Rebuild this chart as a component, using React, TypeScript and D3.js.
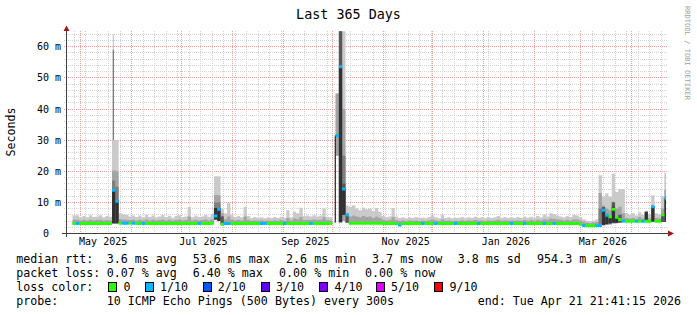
import React from 'react';
import * as d3 from 'd3';

// ---------- data ----------
const START = Date.UTC(2025, 3, 21, 21, 41, 15);
const END = Date.UTC(2026, 3, 21, 21, 41, 15);
const DAY = 86400000;
const BIN_DAYS = 2;

// median rtt per 2-day bin (ms)
const pMed: (number | null)[] = [
  null, null, 3.2, 3.2, 3.2, 3.2, 3.2, 3.2, 3.2, 3.2,
  3.2, 3.2, 3.2, 3.2, 13.9, 10.4, 3.3, 3.3, 3.3, 3.3,
  3.3, 3.2, 3.2, 3.2, 3.2, 3.2, 3.2, 3.2, 3.2, 3.2,
  3.2, 3.2, 3.2, 3.2, 3.2, 3.2, 3.2, 3.2, 3.2, 3.2,
  3.2, 3.2, 3.2, 3.2, 3.3, 5.6, 7.8, 3.0, 3.2, 3.2,
  3.2, 3.2, 3.2, 3.2, 3.2, 3.2, 3.2, 3.2, 3.2, 3.2,
  3.2, 3.2, 3.2, 3.2, 3.2, 3.2, 3.2, 3.2, 3.2, 3.2,
  3.2, 3.2, 3.2, 3.2, 3.2, 3.2, 3.2, 3.2, 3.2, 3.2,
  3.2, null, 31.5, 53.6, 14.3, 6.0, 3.3, 3.3, 3.3, 3.3,
  3.3, 3.3, 3.3, 3.3, 3.3, 3.3, 3.2, 3.2, 3.2, 3.2,
  3.2, 2.7, 3.2, 3.2, 3.2, 3.2, 3.2, 3.2, 3.2, 3.2,
  3.2, 3.2, 3.2, 3.2, 3.2, 3.2, 3.2, 3.2, 3.2, 3.2,
  3.2, 3.2, 3.2, 3.2, 3.2, 3.2, 3.2, 3.2, 3.2, 3.2,
  3.2, 3.2, 3.2, 3.2, 3.2, 3.2, 3.2, 3.2, 3.2, 3.2,
  3.2, 3.2, 3.2, 3.2, 3.2, 3.2, 3.2, 3.2, 3.2, 3.2,
  3.2, 3.2, 3.2, 3.2, 3.2, 3.2, 3.0, 2.6, 2.5, 2.5,
  2.5, 2.6, 2.6, 7.5, 5.9, 5.4, 7.8, 5.2, 4.5, 4.0,
  3.9, 3.9, 3.9, 3.9, 3.9, 3.9, 3.9, 3.9, 8.6, 3.9,
  3.9, 6.0, 11.3,
];

// lowest ping per bin (ms)
const pLow: (number | null)[] = [
  null, null, 3.0, 3.0, 3.0, 3.0, 3.0, 3.0, 3.0, 3.0,
  3.0, 3.0, 3.0, 3.0, 3.1, 3.1, 3.1, 3.1, 3.1, 3.1,
  3.1, 3.0, 3.0, 3.0, 3.0, 3.0, 3.0, 3.0, 3.0, 3.0,
  3.0, 3.0, 3.0, 3.0, 3.0, 3.0, 3.0, 3.0, 3.0, 3.0,
  3.0, 3.0, 3.0, 3.0, 3.1, 4.4, 4.0, 2.8, 3.0, 3.0,
  3.0, 3.0, 3.0, 3.0, 3.0, 3.0, 3.0, 3.0, 3.0, 3.0,
  3.0, 3.0, 3.0, 3.0, 3.0, 3.0, 3.0, 3.0, 3.0, 3.0,
  3.0, 3.0, 3.0, 3.0, 3.0, 3.0, 3.0, 3.0, 3.0, 3.0,
  3.0, null, 25, 3.5, 4.0, 3.4, 3.1, 3.1, 3.1, 3.1,
  3.1, 3.1, 3.1, 3.1, 3.1, 3.1, 3.0, 3.0, 3.0, 3.0,
  3.0, 2.5, 3.0, 3.0, 3.0, 3.0, 3.0, 3.0, 3.0, 3.0,
  3.0, 3.0, 3.0, 3.0, 3.0, 3.0, 3.0, 3.0, 3.0, 3.0,
  3.0, 3.0, 3.0, 3.0, 3.0, 3.0, 3.0, 3.0, 3.0, 3.0,
  3.0, 3.0, 3.0, 3.0, 3.0, 3.0, 3.0, 3.0, 3.0, 3.0,
  3.0, 3.0, 3.0, 3.0, 3.0, 3.0, 3.0, 3.0, 3.0, 3.0,
  3.0, 3.0, 3.0, 3.0, 3.0, 3.0, 2.8, 2.4, 2.3, 2.3,
  2.3, 2.4, 2.4, 2.6, 2.7, 2.9, 3.2, 3.3, 3.4, 3.6,
  3.7, 3.7, 3.7, 3.7, 3.7, 3.7, 3.7, 3.7, 3.7, 3.7,
  3.7, 3.7, 3.7,
];

// upper edge of the inner (darker) smoke band (ms)
const pMid: (number | null)[] = [
  null, null, 4.4, 4.4, 4.2, 4.3, 4.2, 4.4, 4.2, 4.3,
  4.4, 4.2, 4.3, 4.2, 20.4, 20.0, 4.6, 4.5, 4.4, 4.3,
  4.4, 4.2, 4.4, 4.2, 4.5, 4.2, 4.4, 4.2, 4.3, 4.5,
  4.2, 4.4, 4.1, 4.3, 4.5, 4.2, 4.3, 5.5, 4.2, 4.4,
  4.2, 4.3, 4.5, 4.2, 4.6, 12.3, 12.3, 6.5, 4.6, 5.5,
  4.5, 4.2, 4.3, 4.2, 5.5, 4.3, 4.1, 4.2, 4.1, 4.2,
  4.1, 4.2, 4.1, 4.2, 4.1, 4.3, 4.1, 5.0, 4.2, 4.8,
  4.6, 5.3, 4.3, 4.4, 4.3, 4.5, 4.3, 4.4, 5.2, 4.3,
  4.2, null, 45, 70, 40, 6.5, 5.5, 5.8, 5.5, 5.2,
  5.6, 5.3, 5.5, 5.0, 5.4, 5.0, 4.4, 4.2, 4.3, 5.2,
  4.3, 4.0, 4.2, 4.0, 4.2, 4.1, 4.2, 4.0, 4.1, 4.0,
  4.2, 4.5, 4.2, 4.0, 4.5, 4.1, 4.2, 4.0, 4.1, 4.0,
  4.2, 4.0, 4.2, 4.1, 4.3, 4.1, 4.2, 4.0, 4.2, 4.1,
  4.2, 4.4, 4.1, 4.2, 4.1, 4.2, 4.1, 4.2, 4.1, 4.3,
  4.1, 4.3, 4.1, 4.4, 4.2, 4.6, 4.4, 4.8, 4.7, 4.5,
  4.4, 4.2, 4.4, 4.2, 4.6, 4.5, 4.2, 3.8, 3.5, 3.4,
  3.5, 3.7, 13.0, 9.0, 8.0, 7.5, 10.2, 8.0, 8.6, 6.5,
  5.0, 4.8, 5.0, 4.7, 5.3, 4.8, 5.6, 4.9, 9.0, 5.0,
  4.9, 8.0, 14.0,
];

// highest ping per bin (ms)
const pMax: (number | null)[] = [
  null, null, 5.9, 5.9, 5.2, 5.6, 5.2, 5.9, 5.3, 5.5,
  5.9, 5.2, 5.6, 5.4, 30, 30, 6.5, 6.2, 6.0, 5.5,
  5.8, 5.3, 5.8, 5.2, 6.0, 5.3, 5.8, 5.2, 5.5, 6.0,
  5.3, 5.7, 5.1, 5.6, 5.9, 5.3, 5.5, 8.5, 5.2, 5.8,
  5.3, 5.5, 6.0, 5.4, 6.3, 18.4, 18.4, 8.0, 6.5, 9.8,
  6.0, 5.3, 5.6, 5.2, 8.6, 5.6, 5.0, 5.3, 5.0, 5.2,
  4.9, 5.2, 5.0, 5.3, 5.0, 5.4, 5.0, 7.5, 5.2, 7.0,
  6.5, 8.3, 5.6, 5.8, 5.5, 5.9, 5.5, 5.8, 8.0, 5.4,
  5.2, null, 45, 70, 70, 9.0, 8.6, 9.1, 8.0, 7.5,
  8.3, 7.8, 8.0, 7.2, 8.2, 7.0, 5.6, 5.2, 5.5, 8.2,
  5.5, 5.0, 5.2, 4.9, 5.2, 5.0, 5.3, 5.0, 5.1, 4.9,
  5.3, 6.0, 5.2, 4.9, 6.0, 5.0, 5.2, 4.9, 5.1, 5.0,
  5.3, 4.9, 5.2, 5.0, 5.4, 5.0, 5.2, 4.9, 5.3, 5.0,
  5.2, 5.6, 5.0, 5.3, 5.0, 5.2, 5.0, 5.3, 5.0, 5.5,
  5.1, 5.4, 5.0, 5.6, 5.2, 6.0, 5.5, 6.5, 6.3, 5.8,
  5.5, 5.2, 5.6, 5.3, 6.0, 5.8, 5.2, 4.6, 4.2, 4.0,
  4.2, 4.5, 18.7, 11.8, 12.9, 11.8, 19.3, 13.3, 14.3, 14.3,
  6.6, 6.0, 6.5, 5.8, 6.8, 6.0, 7.3, 6.2, 12.3, 6.5,
  6.3, 12.0, 19.5,
];

// loss class per bin (index into lossColors)
const lossIdx: number[] = [
  0, 0, 0, 1, 0, 0, 0, 0, 0, 0,
  0, 0, 0, 0, 1, 1, 0, 1, 1, 0,
  1, 0, 0, 1, 0, 0, 0, 0, 0, 0,
  0, 0, 0, 0, 0, 0, 0, 0, 0, 0,
  1, 0, 0, 0, 0, 1, 1, 0, 1, 1,
  0, 0, 0, 0, 0, 0, 0, 0, 0, 1,
  1, 0, 0, 0, 0, 0, 1, 0, 0, 0,
  0, 0, 0, 0, 1, 0, 0, 0, 0, 0,
  0, 0, 1, 1, 1, 1, 0, 0, 0, 0,
  0, 0, 0, 0, 0, 0, 0, 0, 0, 0,
  0, 1, 0, 0, 0, 0, 0, 0, 1, 0,
  0, 0, 1, 0, 0, 0, 0, 0, 1, 0,
  0, 0, 0, 0, 0, 1, 0, 0, 0, 0,
  0, 0, 0, 0, 0, 1, 0, 0, 0, 1,
  0, 0, 0, 0, 0, 1, 0, 0, 1, 0,
  0, 0, 0, 0, 0, 0, 0, 1, 0, 0,
  0, 1, 1, 1, 1, 0, 0, 0, 0, 1,
  0, 0, 0, 1, 0, 1, 0, 0, 1, 0,
  0, 0, 1,
];

// darker inner smoke bands in the spikes: [bin, shade level (3..5), from ms, to ms]
const innerBands: [number, number, number, number][] = [
  [14, 3, 3.3, 17], [14, 5, 3.3, 13.9], [15, 3, 3.3, 15], [15, 5, 3.3, 10.4],
  [45, 3, 4.5, 10], [45, 5, 4.5, 8.2], [46, 3, 4.5, 10], [46, 5, 4.0, 8.2], [47, 4, 3.0, 5.5],
  [83, 4, 3.8, 70], [83, 5, 3.6, 53.6],
  [84, 3, 6, 25], [84, 4, 6, 16], [84, 5, 6, 14.3], [85, 4, 3.5, 6],
  [162, 3, 2.8, 8], [163, 4, 2.8, 8.5], [163, 5, 2.8, 7.5], [164, 5, 3.0, 5.9],
  [165, 5, 3.2, 5.4], [166, 4, 3.5, 10], [166, 5, 3.5, 8.6], [167, 5, 3.4, 5.2],
  [168, 4, 3.5, 6], [176, 5, 3.9, 7.0], [178, 5, 3.8, 8.6], [181, 4, 3.7, 6], [182, 5, 3.8, 11.3],
];

// single short-lived samples narrower than a bin: [days after start, shade level, from ms, to ms]
const thinSpikes: [number, number, number, number][] = [
  [28.8, 1, 20, 64], [28.8, 3, 30, 59], [163.8, 5, 3.5, 31.5],
];

const lossColors = ['#26ff00', '#00b8ff', '#0059ff', '#5e00ff', '#7e00ff', '#dd00ff', '#ff0000'];
const lossLabels = ['0', '1/10', '2/10', '3/10', '4/10', '5/10', '9/10'];
const smokeShades = ['#cacaca', '#a4a4a4', '#7e7e7e', '#585858', '#323232'];

const yTickValues = [0, 10, 20, 30, 40, 50, 60];
const yMax = 65;
const xLabelMonths: [number, number][] = [[2025, 4], [2025, 6], [2025, 8], [2025, 10], [2026, 0], [2026, 2]];

const title = 'Last 365 Days';
const yTitle = 'Seconds';
const watermark = 'RRDTOOL / TOBI OETIKER';
const rttStats = ['3.6 ms avg', '53.6 ms max', '2.6 ms min', '3.7 ms now', '3.8 ms sd', '954.3 m am/s'];
const lossStats = ['0.07 % avg', '6.40 % max', '0.00 % min', '0.00 % now'];
const probeText = '10 ICMP Echo Pings (500 Bytes) every 300s';
const endText = 'end: Tue Apr 21 21:41:15 2026';

// ---------- layout ----------
const W = 697;
const H = 315;
const X0 = 66;
const X1 = 666;
const Y0 = 233.5;
const YTOP = 31.2;
const MONO = "'DejaVu Sans Mono', monospace";
const LEG_FS = 11.65;
const AX_FS = 10;

const rttX = [106.7, 192.7, 286.1, 372.1, 457.7, 537.1];
const lossX = [106.7, 192.7, 279.1, 365.1];
const boxX = [108.5, 145.5, 203.5, 261.5, 319.5, 376.5, 434.5];
const boxTextX = [123.4, 160.1, 217.7, 276.1, 334.4, 391.1, 449.4];
const rowY = [263, 277, 291, 305];

export default function App() {
  const x = d3.scaleUtc().domain([new Date(START), new Date(END)]).range([X0, X1]);
  const y = d3.scaleLinear().domain([0, yMax]).range([Y0, YTOP]);
  const n = pMed.length;
  const bt = (i: number) => x(new Date(START + i * BIN_DAYS * DAY));

  type SP = { i: number; a: number; b: number } | null;
  const stepBand = (lo: (number | null)[], hi: (number | null)[]): SP[] => {
    const out: SP[] = [];
    for (let i = 0; i < n; i++) {
      const a = lo[i], b = hi[i];
      if (a == null || b == null) { out.push(null); continue; }
      out.push({ i, a, b }, { i: i + 1, a, b });
    }
    return out;
  };
  const area = d3.area<SP>()
    .defined((d) => d != null)
    .x((d) => bt(d!.i))
    .y0((d) => y(d!.a))
    .y1((d) => y(d!.b));

  const band1 = area(stepBand(pLow, pMax)) || '';
  const band2 = area(stepBand(pLow, pMid)) || '';

  const line = d3.line<{ i: number; v: number } | null>()
    .defined((d) => d != null)
    .x((d) => bt(d!.i))
    .y((d) => y(d!.v));

  // median: one horizontal segment per bin, coloured by loss class
  const medPaths = lossColors.map((c, k) => {
    const pts: ({ i: number; v: number } | null)[] = [];
    for (let i = 0; i < n; i++) {
      const v = pMed[i];
      if (v == null || lossIdx[i] !== k) continue;
      pts.push({ i, v }, { i: i + 1, v }, null);
    }
    return { c, d: line(pts) || '' };
  });

  const px = (v: number) => Math.floor(v) + 0.5;

  const sundays = d3.utcSunday.range(new Date(START), new Date(END));
  const months = d3.utcMonth.range(new Date(START), new Date(END));
  const minorY = d3.range(2, yMax, 2).filter((v) => v % 10 !== 0);
  const majorY = yTickValues.filter((v) => v > 0);

  return (
    <svg width={W} height={H} viewBox={`0 0 ${W} ${H}`} style={{ display: 'block', position: 'absolute', left: 0, top: 0, background: '#fff' }}>
      <defs>
        <clipPath id="plot">
          <rect x={X0} y={YTOP} width={X1 - X0} height={Y0 - YTOP} />
        </clipPath>
      </defs>
      <rect x={0} y={0} width={W} height={H} fill="#ffffff" />

      {/* grid */}
      <g shapeRendering="crispEdges" strokeWidth={1} strokeDasharray="1,1">
        {minorY.map((v) => (
          <line key={'hy' + v} x1={64} x2={668} y1={px(y(v))} y2={px(y(v))} stroke="#d2d2d2" />
        ))}
        {sundays.map((d) => (
          <line key={'vx' + d.getTime()} x1={px(x(d))} x2={px(x(d))} y1={YTOP} y2={Y0} stroke="#d2d2d2" />
        ))}
        {majorY.map((v) => (
          <line key={'HY' + v} x1={64} x2={668} y1={px(y(v))} y2={px(y(v))} stroke="#e8a0a0" />
        ))}
        {months.map((d) => (
          <line key={'VX' + d.getTime()} x1={px(x(d))} x2={px(x(d))} y1={YTOP} y2={Y0} stroke="#e8a0a0" />
        ))}
      </g>

      {/* smoke + median */}
      <g clipPath="url(#plot)">
        <path d={band1} fill={smokeShades[0]} />
        <path d={band2} fill={smokeShades[1]} />
        {[3, 4, 5].map((lvl) =>
          innerBands
            .filter((b) => b[1] === lvl)
            .map((b, j) => (
              <rect
                key={`ib${lvl}-${j}`}
                x={bt(b[0])}
                width={bt(b[0] + 1) - bt(b[0])}
                y={y(b[3])}
                height={y(b[2]) - y(b[3])}
                fill={smokeShades[lvl - 1]}
              />
            ))
        )}
        {thinSpikes.map((s, j) => {
          const cx = x(new Date(START + s[0] * DAY));
          return (
            <rect key={'ts' + j} x={cx - 0.6} width={1.3} y={y(s[3])} height={y(s[2]) - y(s[3])} fill={smokeShades[s[1] - 1]} />
          );
        })}
        {medPaths.map((m, k) => (
          <path key={'med' + k} d={m.d} fill="none" stroke={m.c} strokeWidth={3} />
        ))}
      </g>

      {/* axes */}
      <g shapeRendering="crispEdges">
        <line x1={62} x2={668} y1={233.5} y2={233.5} stroke="#404040" />
        <line x1={66.5} x2={66.5} y1={237} y2={30} stroke="#404040" />
      </g>
      <path d="M668,230.5 L674,233.5 L668,236.5 Z" fill="#a01818" />
      <path d="M63.5,31 L69.5,31 L66.5,25.5 Z" fill="#a01818" />

      {/* y tick labels */}
      {yTickValues.map((v) => (
        <text
          key={'yl' + v}
          x={v === 0 ? 61 - 2 * AX_FS * 0.602 : 61}
          y={px(y(v)) + 3.6}
          textAnchor="end"
          fontFamily={MONO}
          fontSize={AX_FS}
          fill="#000"
        >
          {v === 0 ? '0' : `${v} m`}
        </text>
      ))}

      {/* x labels */}
      {xLabelMonths.map(([yy, mm]) => {
        const t = new Date(Date.UTC(yy, mm, 1) + 13.5 * DAY);
        return (
          <text key={'xl' + yy + mm} x={x(t)} y={245} textAnchor="middle" fontFamily={MONO} fontSize={AX_FS} fill="#000">
            {d3.utcFormat('%b %Y')(new Date(Date.UTC(yy, mm, 1)))}
          </text>
        );
      })}

      {/* titles */}
      <text x={W / 2} y={19} textAnchor="middle" fontFamily={MONO} fontSize={13.4} fill="#000">{title}</text>
      <text transform="translate(15,132) rotate(-90)" textAnchor="middle" fontFamily={MONO} fontSize={LEG_FS} fill="#000">{yTitle}</text>
      <text transform="translate(685,6) rotate(90)" fontFamily={MONO} fontSize={7.1} fill="#a0a0a0">{watermark}</text>

      {/* legend */}
      <g fontFamily={MONO} fontSize={LEG_FS} fill="#000" style={{ whiteSpace: 'pre' }}>
        <text x={16.2} y={rowY[0]}>median rtt:</text>
        {rttStats.map((s, i) => (
          <text key={'rs' + i} x={rttX[i]} y={rowY[0]}>{s}</text>
        ))}
        <text x={16.2} y={rowY[1]}>packet loss:</text>
        {lossStats.map((s, i) => (
          <text key={'ls' + i} x={lossX[i]} y={rowY[1]}>{s}</text>
        ))}
        <text x={16.2} y={rowY[2]}>loss color:</text>
        {lossLabels.map((s, i) => (
          <g key={'lc' + i}>
            <rect x={boxX[i]} y={282.5} width={7.5} height={9} fill={lossColors[i]} stroke="#000" strokeWidth={1} shapeRendering="crispEdges" />
            <text x={boxTextX[i]} y={rowY[2]}>{s}</text>
          </g>
        ))}
        <text x={16.2} y={rowY[3]}>probe:</text>
        <text x={106.7} y={rowY[3]}>{probeText}</text>
        <text x={477.7} y={rowY[3]}>{endText}</text>
      </g>
    </svg>
  );
}
